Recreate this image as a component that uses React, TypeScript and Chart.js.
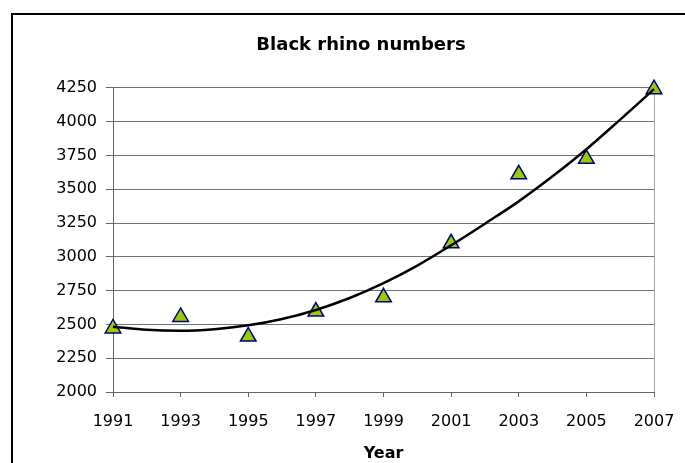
import React, { useEffect, useRef } from "react";
import { Chart, registerables } from "chart.js";

Chart.register(...registerables);

const chartTitle = "Black rhino numbers";
const xAxisTitle = "Year";

const years = [1991, 1993, 1995, 1997, 1999, 2001, 2003, 2005, 2007];
const rhinoCounts = [2470, 2555, 2410, 2595, 2700, 3100, 3610, 3725, 4240];

const trendYears = [
  1991, 1992, 1993, 1994, 1995, 1996, 1997, 1998, 1999, 2000, 2001, 2002, 2003,
  2004, 2005, 2006, 2007,
];
const trendValues = [
  2483, 2460, 2453, 2465, 2493, 2540, 2607, 2695, 2805, 2935, 3085, 3245, 3410,
  3595, 3795, 4015, 4240,
];

const xTickValues = [1991, 1993, 1995, 1997, 1999, 2001, 2003, 2005, 2007];
const yTickValues = [2000, 2250, 2500, 2750, 3000, 3250, 3500, 3750, 4000, 4250];

const FONT = "'DejaVu Sans', 'Liberation Sans', Arial, sans-serif";

export default function App() {
  const canvasRef = useRef<HTMLCanvasElement | null>(null);

  useEffect(() => {
    const canvas = canvasRef.current;
    if (!canvas) return;

    const pointData = years.map((x, i) => ({ x, y: rhinoCounts[i] }));
    const trendData = trendYears.map((x, i) => ({ x, y: trendValues[i] }));
    const lastX = xTickValues[xTickValues.length - 1];

    const chart = new Chart(canvas, {
      type: "scatter",
      data: {
        datasets: [
          {
            label: "Trend",
            data: trendData,
            showLine: true,
            borderColor: "#000000",
            borderWidth: 2.5,
            pointRadius: 0,
            cubicInterpolationMode: "monotone",
            order: 0,
            clip: false,
          } as any,
          {
            label: "Black rhino numbers",
            data: pointData,
            pointStyle: "triangle",
            pointRadius: 9,
            backgroundColor: "#99CC00",
            borderColor: "#000080",
            borderWidth: 1.5,
            order: 1,
            clip: false,
          } as any,
        ],
      },
      options: {
        responsive: false,
        animation: false,
        layout: { padding: { left: 68, right: 31, top: 0, bottom: 0 } },
        plugins: {
          legend: { display: false },
          tooltip: { enabled: false },
          title: {
            display: true,
            text: chartTitle,
            color: "#000000",
            font: { family: FONT, size: 18, weight: "bold" },
            padding: { top: 35, bottom: 31.2 },
          },
        },
        scales: {
          x: {
            type: "linear",
            min: xTickValues[0],
            max: lastX,
            afterBuildTicks: (s: any) => {
              s.ticks = xTickValues.map((v) => ({ value: v }));
            },
            afterFit: (s: any) => {
              s.paddingLeft = 0;
              s.paddingRight = 0;
              s.height = 71;
            },
            ticks: {
              autoSkip: false,
              maxRotation: 0,
              padding: 15,
              color: "#000000",
              font: { family: FONT, size: 16 },
              callback: (v: any) => String(v),
            },
            grid: {
              drawOnChartArea: true,
              drawTicks: true,
              tickLength: 5,
              tickColor: "#666666",
              lineWidth: 1,
              color: (ctx: any) =>
                ctx.tick && ctx.tick.value === lastX ? "#a6a6a6" : "rgba(0,0,0,0)",
            },
            border: { display: true, color: "#666666", width: 1 },
            title: {
              display: true,
              text: xAxisTitle,
              color: "#000000",
              font: { family: FONT, size: 16, weight: "bold" },
              padding: { top: 0, bottom: 0 },
            },
          },
          y: {
            type: "linear",
            min: yTickValues[0],
            max: yTickValues[yTickValues.length - 1],
            afterBuildTicks: (s: any) => {
              s.ticks = yTickValues.map((v) => ({ value: v }));
            },
            afterFit: (s: any) => {
              s.width = 45;
              s.paddingTop = 0;
              s.paddingBottom = 0;
              // let the tick labels extend left of the narrow axis box
              s._computeLabelArea = () => undefined;
            },
            ticks: {
              padding: 9,
              color: "#000000",
              font: { family: FONT, size: 16 },
              callback: (v: any) => String(v),
            },
            grid: {
              color: "#707070",
              tickColor: "#666666",
              tickLength: 7,
              lineWidth: 1,
            },
            border: { display: true, color: "#666666", width: 1 },
          },
        },
      },
    });

    return () => {
      chart.destroy();
    };
  }, []);

  return (
    <div
      style={{
        position: "absolute",
        left: 0,
        top: 0,
        width: 685,
        height: 463,
        overflow: "hidden",
        background: "#ffffff",
      }}
    >
      <div
        style={{
          position: "absolute",
          left: 11,
          top: 13,
          width: 800,
          height: 600,
          border: "2px solid #000000",
          boxSizing: "border-box",
        }}
      />
      <canvas
        ref={canvasRef}
        width={685}
        height={463}
        style={{ position: "absolute", left: 0, top: 0, display: "block" }}
      />
    </div>
  );
}
